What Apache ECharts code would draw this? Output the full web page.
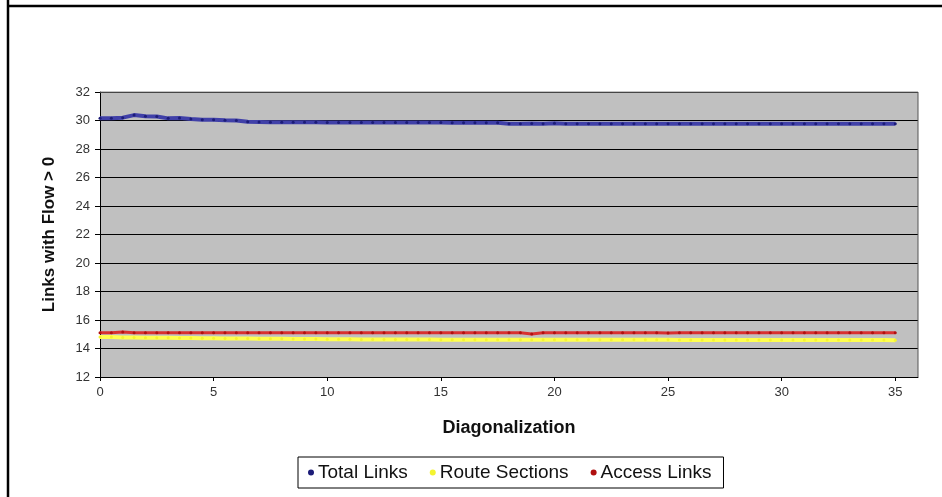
<!DOCTYPE html>
<html>
<head>
<meta charset="utf-8">
<script src="https://cdn.jsdelivr.net/npm/echarts@6/dist/echarts.min.js"></script>
<style>
html,body{margin:0;padding:0;background:#fff;}
#chart{width:942px;height:497px;}
</style>
</head>
<body>
<div id="chart"></div>
<script>
var xValues = [0,0.5,1,1.5,2,2.5,3,3.5,4,4.5,5,5.5,6,6.5,7,7.5,8,8.5,9,9.5,10,10.5,11,11.5,12,12.5,13,13.5,14,14.5,15,15.5,16,16.5,17,17.5,18,18.5,19,19.5,20,20.5,21,21.5,22,22.5,23,23.5,24,24.5,25,25.5,26,26.5,27,27.5,28,28.5,29,29.5,30,30.5,31,31.5,32,32.5,33,33.5,34,34.5,35];
var totalLinks = [30.15,30.15,30.2,30.38,30.3,30.28,30.15,30.18,30.1,30.05,30.05,30.02,30.0,29.92,29.9,
  29.88,29.88,29.87,29.87,29.87,29.86,29.86,29.86,29.86,29.86,29.86,29.86,29.86,29.86,29.86,29.86,29.85,29.85,29.85,29.85,29.85,
  29.78,29.78,29.79,29.78,29.8,29.78,29.78,29.78,29.78,29.78,29.78,29.78,29.78,29.78,29.78,29.78,29.78,29.78,29.78,29.78,29.78,29.78,29.78,29.78,29.78,29.78,29.78,29.78,29.78,29.78,29.78,29.78,29.78,29.78,29.78];
var routeSections = [14.8,14.8,14.78,14.78,14.76,14.75,14.75,14.74,14.73,14.72,14.72,14.71,14.7,14.7,14.69,14.68,14.68,14.67,14.67,14.66,14.65,
  14.65,14.65,14.64,14.64,14.64,14.63,14.63,14.63,14.63,14.62,14.62,14.62,14.62,14.62,14.62,14.62,14.62,14.62,14.62,14.62,
  14.61,14.61,14.61,14.61,14.61,14.61,14.61,14.61,14.61,14.61,14.6,14.6,14.6,14.6,14.6,14.6,14.6,14.6,14.6,14.6,
  14.6,14.6,14.6,14.6,14.6,14.6,14.6,14.6,14.6,14.58];
var accessLinks = [15.1,15.1,15.15,15.1,15.1,15.1,15.1,15.1,15.1,15.1,15.1,15.1,15.1,15.1,15.1,15.1,15.1,15.1,15.1,15.1,15.1,
  15.1,15.1,15.1,15.1,15.1,15.1,15.1,15.1,15.1,15.1,15.1,15.1,15.1,15.1,15.1,15.1,15.1,15.02,15.1,15.1,
  15.1,15.1,15.1,15.1,15.1,15.1,15.1,15.1,15.1,15.08,15.1,15.1,15.1,15.1,15.1,15.1,15.1,15.1,15.1,15.1,
  15.1,15.1,15.1,15.1,15.1,15.1,15.1,15.1,15.1,15.1];
var seriesNames = ['Total Links','Route Sections','Access Links'];
var yTicks = {min:12, max:32, interval:2};
var xTicks = {min:0, max:36, interval:5};

function pairs(ys){ return xValues.map(function(x,i){ return [x, ys[i]]; }); }

var chart = echarts.init(document.getElementById('chart'));
var fontFam = '"Liberation Sans", Arial, sans-serif';
chart.setOption({
  animation:false,
  backgroundColor:'#ffffff',
  textStyle:{fontFamily:fontFam},
  graphic:[
    {type:'line', shape:{x1:8,y1:0,x2:8,y2:497}, style:{stroke:'#000',lineWidth:2.5}, z:100},
    {type:'line', shape:{x1:8,y1:6,x2:942,y2:6}, style:{stroke:'#000',lineWidth:2.5}, z:100},
    {type:'line', shape:{x1:100,y1:92,x2:918,y2:92}, style:{stroke:'#8a8a8a',lineWidth:1}, z:100},
    {type:'line', shape:{x1:918,y1:92,x2:918,y2:377}, style:{stroke:'#555',lineWidth:1}, z:100}
  ],
  grid:{left:100, top:92, width:818, height:285, show:true, backgroundColor:'#c0c0c0', borderWidth:0},
  legend:{
    data:seriesNames,
    left:298, top:457,
    padding:[6,12,6,10],
    borderColor:'#000', borderWidth:1,
    itemWidth:6, itemHeight:6, itemGap:22,
    icon:'circle',
    textStyle:{fontFamily:fontFam, fontSize:19, color:'#111', padding:[0,0,0,-1]}
  },
  xAxis:{
    type:'value', min:xTicks.min, max:xTicks.max, interval:xTicks.interval,
    name:'Diagonalization', nameLocation:'middle', nameGap:42,
    nameTextStyle:{fontFamily:fontFam, fontSize:18, fontWeight:'bold', color:'#111'},
    axisLine:{show:true, onZero:false, lineStyle:{color:'#000', width:1}},
    axisTick:{show:true, inside:false, length:4, lineStyle:{color:'#000'}},
    axisLabel:{color:'#333', fontSize:13, margin:9, showMaxLabel:false,
      formatter:function(v){ return (v % 5 === 0) ? String(v) : ''; }},
    splitLine:{show:false}
  },
  yAxis:{
    type:'value', min:yTicks.min, max:yTicks.max, interval:yTicks.interval,
    name:'Links with Flow > 0', nameLocation:'middle', nameGap:42,
    nameTextStyle:{fontFamily:fontFam, fontSize:17, fontWeight:'bold', color:'#111'},
    axisLine:{show:true, lineStyle:{color:'#000', width:1}},
    axisTick:{show:true, length:5, lineStyle:{color:'#000'}},
    axisLabel:{color:'#333', fontSize:13, margin:10},
    splitLine:{show:true, lineStyle:{color:'#000', width:1}}
  },
  series:[
    {name:seriesNames[0], type:'line', data:pairs(totalLinks), showSymbol:true, symbol:'circle', symbolSize:3,
      itemStyle:{color:'#1c1c78'}, lineStyle:{color:'#4040a8', width:4}, z:3},
    {name:seriesNames[1], type:'line', data:pairs(routeSections), showSymbol:true, symbol:'circle', symbolSize:3,
      itemStyle:{color:'#f4f430'}, lineStyle:{color:'#ffff50', width:4}, z:2},
    {name:seriesNames[2], type:'line', data:pairs(accessLinks), showSymbol:true, symbol:'circle', symbolSize:3,
      itemStyle:{color:'#b01010'}, lineStyle:{color:'#d83030', width:3}, z:4}
  ]
});
</script>
</body>
</html>
